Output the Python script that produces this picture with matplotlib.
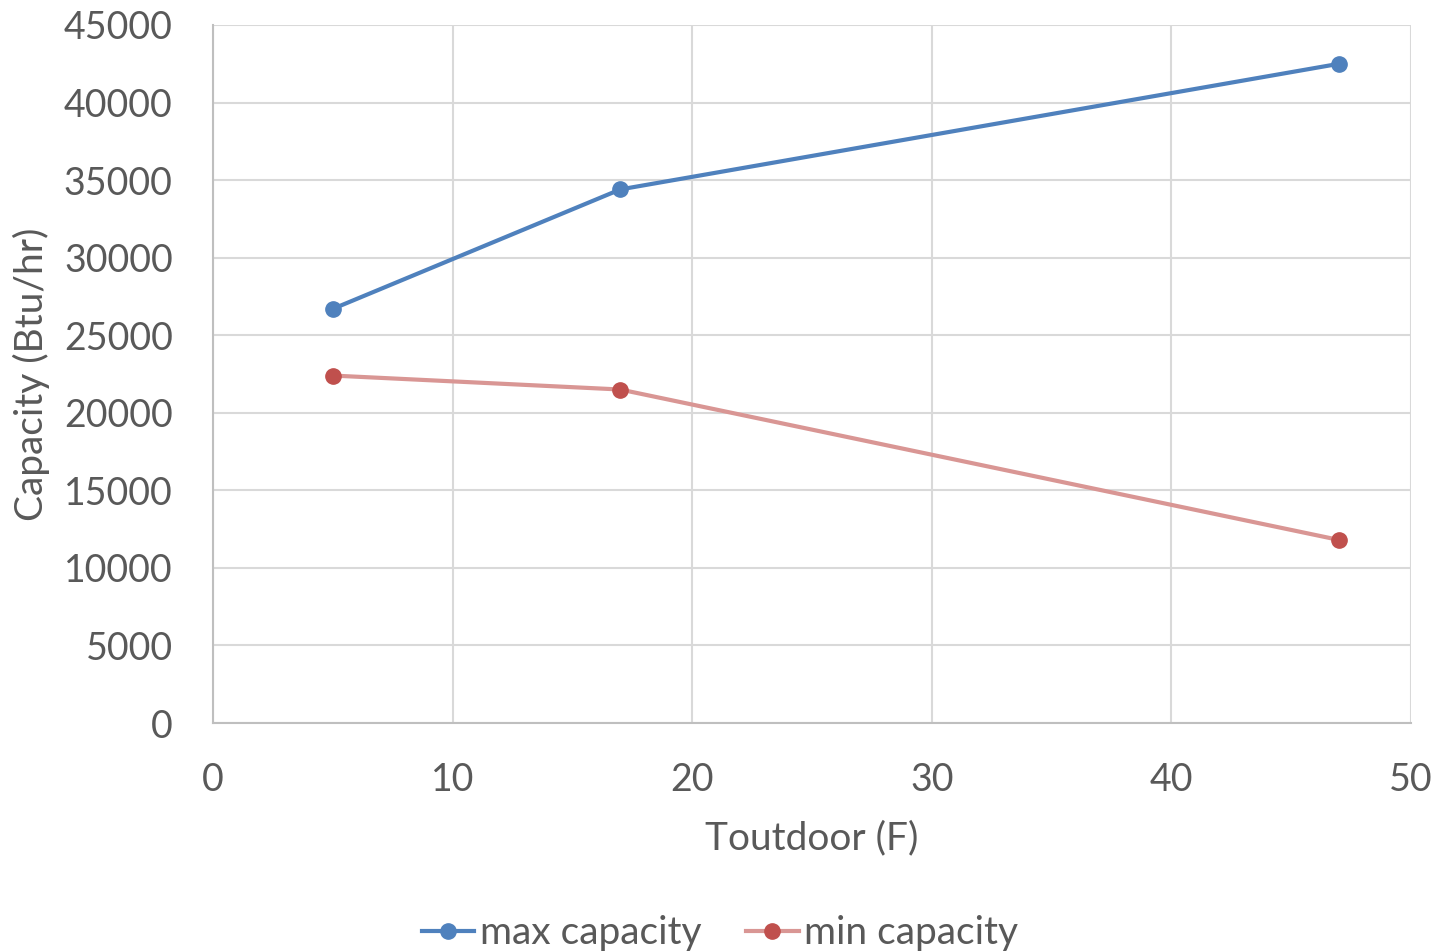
import matplotlib
matplotlib.use("Agg")
import matplotlib.pyplot as plt

toutdoor = [5, 17, 47]
max_capacity = [26700, 34400, 42500]
min_capacity = [22400, 21500, 11800]

plt.rcParams['font.family'] = ['Lato', 'DejaVu Sans']

fig = plt.figure(figsize=(14.4, 9.52), dpi=100)
ax = fig.add_axes([213/1440, 1-723/952, (1411-213)/1440, (723-25)/952])

ax.plot(toutdoor, max_capacity, color='#4F81BD', lw=3, marker='o', ms=11,
        mfc='#4F81BD', mec='#4F81BD', label='max capacity', zorder=3)
ax.plot(toutdoor, min_capacity, color='#D99694', lw=3, marker='o', ms=11,
        mfc='#C0504D', mec='#C0504D', label='min capacity', zorder=3)

ax.set_xlim(0, 50)
ax.set_ylim(0, 45000)
ax.set_xticks(range(0, 51, 10))
ax.set_yticks(range(0, 45001, 5000))
ax.grid(True, color='#D9D9D9', lw=1.5)
ax.set_axisbelow(True)
for s in ['top', 'right']:
    ax.spines[s].set_visible(False)
for s in ['left', 'bottom']:
    ax.spines[s].set_color('#BFBFBF')
    ax.spines[s].set_linewidth(1.5)
ax.tick_params(length=0, labelsize=27, colors='#595959')
ax.tick_params(axis='x', pad=28)
ax.tick_params(axis='y', pad=29)
ax.set_xlabel('Toutdoor (F)', fontsize=28, color='#595959', labelpad=16)
ax.set_ylabel('Capacity (Btu/hr)', fontsize=28, color='#595959', labelpad=10)

fig.legend(loc='lower center', bbox_to_anchor=(0.5, -0.036), ncol=2, frameon=False,
           fontsize=28, labelcolor='#595959', handlelength=1.35, handletextpad=0.15,
           columnspacing=1.15)

fig.savefig('out.png', dpi=100)
